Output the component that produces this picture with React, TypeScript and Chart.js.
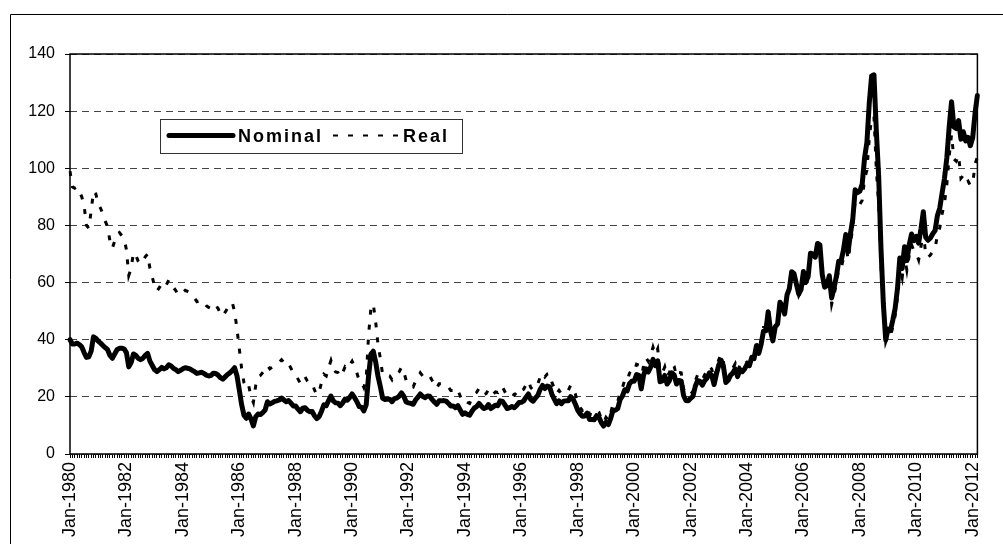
import React, { useEffect, useRef } from 'react';
import { Chart, registerables } from 'chart.js';

Chart.register(...registerables);

const MONTHS = ['Jan', 'Feb', 'Mar', 'Apr', 'May', 'Jun', 'Jul', 'Aug', 'Sep', 'Oct', 'Nov', 'Dec'];
const START_YEAR = 1980;
const LABEL_EVERY = 24;

const Y_MIN = 0;
const Y_MAX = 140;
const Y_STEP = 20;

const SERIES_NAMES = ['Nominal', 'Real'];

// Monthly prices, Jan-1980 .. Mar-2012 (one row per year)
const nominal = [
  40, 38.5, 38.5, 38.8, 38.3, 37.5, 35.5, 33.8, 34, 36, 41, 40.5,
  39.5, 38.8, 38, 37.2, 36.5, 34.5, 33.5, 35, 36.5, 37, 37, 36.8,
  35.5, 30.5, 32, 35, 34.5, 33.5, 33, 33.5, 34.5, 35.2, 32.5, 31,
  29.5, 28.8, 29.5, 30.3, 29.8, 30.2, 31.2, 30.8, 30, 29.5, 28.8, 29.3,
  29.8, 30.2, 30, 29.8, 29.3, 28.8, 28.2, 28.4, 28.6, 28.2, 27.6, 27.3,
  27.5, 28.3, 28.2, 27.6, 26.7, 26.2, 27, 27.8, 28.4, 29.2, 30.2, 27.5,
  22.5, 17.3, 13.6, 12.5, 14, 12.3, 9.8, 13, 14, 13.8, 14.5, 15.4,
  18.3, 17.5, 17.9, 18.4, 18.6, 18.9, 19.6, 18.9, 18.3, 18.7, 17.8, 16.8,
  16.8, 15.7, 14.8, 16.0, 16.2, 15.3, 14.8, 14.9, 13.4, 12.4, 13.1, 15.0,
  17.2, 16.9, 18.7, 20.3, 18.6, 17.9, 17.8, 16.9, 17.9, 19.2, 18.8, 19.8,
  21.0, 19.8, 18.4, 16.6, 16.4, 15.1, 17.2, 27.2, 34.9, 36.0, 32.3, 27.3,
  23.6, 19.5, 19.1, 19.2, 19.2, 18.3, 19.4, 19.6, 20.2, 21.4, 20.2, 18.2,
  17.9, 17.7, 17.4, 18.9, 19.9, 21.0, 20.2, 19.7, 20.3, 20.2, 19.1, 18.2,
  17.4, 18.6, 18.6, 18.7, 18.5, 17.7, 16.8, 16.8, 16.2, 16.9, 15.4, 13.9,
  14.4, 13.9, 13.6, 15.0, 16.1, 16.6, 17.7, 16.7, 15.9, 16.2, 17.3, 15.9,
  16.5, 17.1, 16.9, 18.6, 18.4, 17.2, 15.9, 16.2, 16.6, 16.2, 17.0, 18.0,
  18.1, 18.6, 19.9, 21.0, 19.1, 18.5, 19.6, 20.5, 22.6, 24.0, 22.9, 23.8,
  23.5, 20.9, 19.2, 17.6, 18.6, 17.6, 18.5, 18.6, 18.6, 20.1, 19.2, 17.4,
  15.3, 14.1, 13.2, 13.3, 14.3, 12.1, 12.1, 12.0, 13.4, 12.9, 11.0, 9.8,
  11.1, 10.3, 12.5, 15.3, 15.3, 15.9, 19.0, 20.3, 22.5, 22.1, 24.6, 25.5,
  25.5, 27.8, 27.5, 22.8, 27.6, 29.8, 28.7, 30.4, 33.1, 30.9, 32.6, 25.3,
  25.6, 27.5, 24.5, 25.7, 28.4, 27.7, 24.5, 25.7, 25.6, 20.5, 18.7, 18.6,
  19.5, 20.2, 23.7, 25.7, 25.4, 24.1, 25.7, 26.6, 28.4, 27.5, 24.3, 28.0,
  31.2, 32.8, 30.4, 25.0, 25.8, 27.6, 28.4, 29.8, 27.1, 29.6, 28.8, 29.8,
  31.3, 30.9, 33.8, 33.4, 37.9, 35.2, 38.4, 43.0, 43.1, 49.8, 43.1, 39.6,
  44.5, 45.5, 53.1, 51.9, 49.0, 55.6, 57.9, 63.8, 63.1, 59.5, 56.0, 57.6,
  63.9, 60.1, 62.1, 70.3, 70.0, 68.9, 73.7, 73.2, 62.8, 58.4, 59.0, 62.4,
  54.6, 58.0, 62.1, 67.5, 67.5, 71.3, 76.8, 70.8, 77.1, 82.3, 92.5, 91.5,
  92.0, 94.5, 103.6, 109.1, 122.8, 132.3, 132.7, 113.2, 97.2, 71.6, 52.5, 40.0,
  43.7, 43.2, 46.8, 50.9, 57.9, 68.6, 64.9, 72.5, 67.7, 73.2, 77.0, 74.7,
  76.2, 73.8, 78.8, 84.8, 75.9, 74.8, 75.6, 77.1, 78.2, 83.5, 86.1, 91.4,
  96.5, 103.7, 114.6, 123.3, 114.5, 113.9, 116.7, 110.2, 112.8, 109.6, 110.8, 107.9,
  110.7, 119.3, 125.5,
];

const real = [
  99, 93.5, 93, 93.5, 92, 90, 87, 80, 79, 85, 92, 91,
  87.5, 86, 84, 81.5, 79.5, 74.5, 72, 74.5, 77, 77.5, 76.5, 75.5,
  71.5, 62.5, 65, 70.5, 69.5, 67.5, 66.5, 67.5, 69, 70, 65, 62,
  58.5, 57, 58.2, 59.7, 58.6, 59.2, 60.9, 60, 58.3, 57.2, 55.7, 56.5,
  56.6, 57.3, 56.9, 56.5, 55.5, 54.5, 53.3, 53.6, 53.9, 53.1, 51.9, 51.3,
  50.9, 52.3, 52.1, 50.9, 49.2, 48.2, 49.6, 51, 52, 53, 50, 44,
  37, 30, 25, 23, 24, 20, 18, 24, 27, 27.5, 28.5, 29.5,
  31, 29.8, 30.4, 31.3, 31.6, 32.1, 33, 32, 31, 31.6, 30, 28.3,
  27.9, 26.2, 24.7, 26.7, 27, 25.5, 24.7, 24.8, 22.4, 20.7, 21.9, 25,
  27.9, 27.3, 30.2, 32.7, 29.9, 28.7, 28.5, 27, 28.5, 30.5, 29.7, 31.2,
  32.5, 30.7, 28.5, 25.7, 25.2, 23.3, 26.4, 41.5, 51, 52.5, 46.5, 38.5,
  33.5, 27.7, 27.1, 27.3, 27.3, 26, 27.5, 27.8, 28.7, 30.4, 28.7, 25.8,
  24.2, 23.9, 23.5, 25.5, 26.9, 28.4, 27.3, 26.6, 27.4, 27.3, 25.8, 24.6,
  23, 24.6, 24.6, 24.7, 24.4, 23.4, 22.2, 22.2, 21.4, 22.3, 20.3, 18.3,
  18.7, 18.1, 17.7, 19.5, 20.9, 21.6, 23, 21.7, 20.7, 21.1, 22.5, 20.7,
  21, 21.7, 21.5, 23.6, 23.4, 21.8, 20.2, 20.6, 21.1, 20.6, 21.6, 22.9,
  22.1, 22.7, 24.3, 25.6, 23.3, 22.4, 23.5, 24.5, 26.9, 28.3, 27, 28,
  28.2, 25.1, 23, 21.1, 22.3, 21.1, 22.2, 22.3, 22.3, 24.1, 23, 20.9,
  17.6, 16.2, 15.2, 15.3, 16.4, 13.9, 13.8, 13.6, 15.2, 14.6, 12.4, 11,
  12.8, 11.8, 14.4, 17.6, 17.6, 18.3, 21.9, 23.3, 25.9, 25.4, 28.3, 29.3,
  28.8, 31.4, 31.1, 25.8, 31.2, 33.7, 32.4, 34.4, 37.4, 34.9, 36.8, 28.6,
  28.4, 30.5, 27.2, 28.5, 31.5, 30.7, 27.2, 28.5, 28.4, 22.8, 20.8, 20.6,
  21.1, 21.8, 25.6, 27.8, 27.4, 26, 27.8, 28.7, 30.7, 29.7, 26.2, 30.2,
  33.1, 34.8, 32.2, 26.5, 27.3, 29.3, 30.1, 31.6, 28.7, 31.4, 30.5, 31.6,
  32.2, 31.8, 34.8, 34.4, 39, 36.3, 39.6, 44.3, 44.4, 51.3, 44.4, 40.8,
  44.5, 45.5, 53, 51.7, 48.8, 55.3, 57.5, 63.3, 62.5, 58.9, 55.4, 57,
  62.6, 58.9, 60.9, 68.9, 68.6, 67.5, 72.2, 71.7, 61.5, 57.2, 57.8, 61.2,
  52.4, 55.7, 59.6, 64.8, 64.8, 68.4, 73.7, 68, 74, 79, 88.8, 87.8,
  87.4, 88.8, 96.3, 99.3, 110.5, 117.7, 118.1, 99.6, 87.5, 65.9, 49.9, 39.2,
  41.5, 41, 44.5, 48.4, 55, 65.2, 61.7, 68.9, 64.3, 69.5, 73.2, 71,
  70.1, 67.9, 72.5, 78, 69.8, 68.8, 69.6, 70.9, 71.9, 76.8, 79.2, 84.1,
  87.8, 94.4, 104.3, 111.7, 103.3, 102.5, 104.5, 96.5, 97.5, 95, 95.5, 94,
  94.5, 101.5, 104,
];

const categories = nominal.map(
  (_, i) => `${MONTHS[i % 12]}-${START_YEAR + Math.floor(i / 12)}`
);

const FONT = "'Liberation Sans', Arial, sans-serif";

const decorPlugin = {
  id: 'decor',
  beforeDatasetsDraw(chart: any) {
    const { ctx, chartArea: a } = chart;
    ctx.save();
    ctx.strokeStyle = '#000';
    ctx.lineWidth = 1.5;
    ctx.setLineDash([]);
    ctx.strokeRect(a.left, a.top, a.right - a.left, a.bottom - a.top);
    ctx.restore();
  },
  afterDraw(chart: any) {
    const { ctx } = chart;
    ctx.save();
    // outer chart border
    ctx.strokeStyle = '#000';
    ctx.lineWidth = 1;
    ctx.setLineDash([]);
    ctx.beginPath();
    ctx.moveTo(10.5, 700);
    ctx.lineTo(10.5, 14.5);
    ctx.lineTo(1100, 14.5);
    ctx.stroke();

    // legend box
    const bx = 160, by = 119, bw = 302, bh = 34;
    ctx.fillStyle = '#fff';
    ctx.fillRect(bx, by, bw, bh);
    ctx.strokeStyle = '#333';
    ctx.lineWidth = 1;
    ctx.strokeRect(bx + 0.5, by + 0.5, bw, bh);

    const cy = 135.5;
    // Nominal sample
    ctx.strokeStyle = '#000';
    ctx.lineWidth = 5;
    ctx.lineCap = 'round';
    ctx.beginPath();
    ctx.moveTo(169, cy);
    ctx.lineTo(233, cy);
    ctx.stroke();

    ctx.fillStyle = '#000';
    ctx.font = `bold 18px ${FONT}`;
    (ctx as any).letterSpacing = '2px';
    ctx.textBaseline = 'alphabetic';
    ctx.textAlign = 'left';
    ctx.fillText(SERIES_NAMES[0], 238, 142);

    // Real sample
    ctx.lineCap = 'butt';
    ctx.lineWidth = 2;
    ctx.setLineDash([5, 10]);
    ctx.beginPath();
    ctx.moveTo(333, cy);
    ctx.lineTo(401, cy);
    ctx.stroke();
    ctx.setLineDash([]);
    ctx.fillText(SERIES_NAMES[1], 403, 142);
    ctx.restore();
  },
};

export default function App() {
  const ref = useRef<HTMLCanvasElement | null>(null);

  useEffect(() => {
    if (!ref.current) return;
    const chart = new Chart(ref.current, {
      type: 'line',
      data: {
        labels: categories,
        datasets: [
          {
            label: SERIES_NAMES[1],
            data: real,
            borderColor: '#000',
            borderWidth: 3,
            borderDash: [5, 10],
            borderCapStyle: 'butt',
            borderJoinStyle: 'miter',
            pointRadius: 0,
            tension: 0,
            fill: false,
          },
          {
            label: SERIES_NAMES[0],
            data: nominal,
            borderColor: '#000',
            borderWidth: 5,
            borderCapStyle: 'round',
            borderJoinStyle: 'round',
            pointRadius: 0,
            tension: 0,
            fill: false,
          },
        ],
      },
      options: {
        animation: false,
        responsive: false,
        devicePixelRatio: 1,
        layout: { padding: { top: 54, right: 16, left: 0, bottom: 0 } },
        plugins: {
          legend: { display: false },
          tooltip: { enabled: false },
          title: { display: false },
        },
        scales: {
          x: {
            type: 'category',
            offset: false,
            grid: {
              display: true,
              drawOnChartArea: false,
              drawTicks: true,
              tickLength: 4,
              tickColor: '#000',
              tickWidth: 1,
              color: '#000',
            },
            border: { display: false },
            ticks: {
              autoSkip: false,
              minRotation: 90,
              maxRotation: 90,
              padding: 4,
              color: '#000',
              font: { family: FONT, size: 18 },
              callback: (_v: any, index: number) =>
                index % LABEL_EVERY === 0 ? categories[index] : '',
            },
            afterFit: (scale: any) => {
              scale.height = 90;
            },
          },
          y: {
            min: Y_MIN,
            max: Y_MAX,
            grid: {
              color: '#444',
              lineWidth: 1,
              drawTicks: true,
              tickLength: 5,
              tickColor: '#000',
              tickWidth: 1,
            },
            border: { display: false, dash: [7, 5] },
            ticks: {
              stepSize: Y_STEP,
              padding: 10,
              color: '#000',
              font: { family: FONT, size: 16 },
            },
            afterFit: (scale: any) => {
              scale.width = 70;
            },
          },
        },
      },
      plugins: [decorPlugin],
    });
    return () => chart.destroy();
  }, []);

  return (
    <div
      style={{
        position: 'fixed',
        left: 0,
        top: 0,
        width: 1003,
        height: 544,
        background: '#fff',
        overflow: 'hidden',
      }}
    >
      <canvas ref={ref} width={1003} height={544} style={{ display: 'block', width: 1003, height: 544 }} />
    </div>
  );
}
